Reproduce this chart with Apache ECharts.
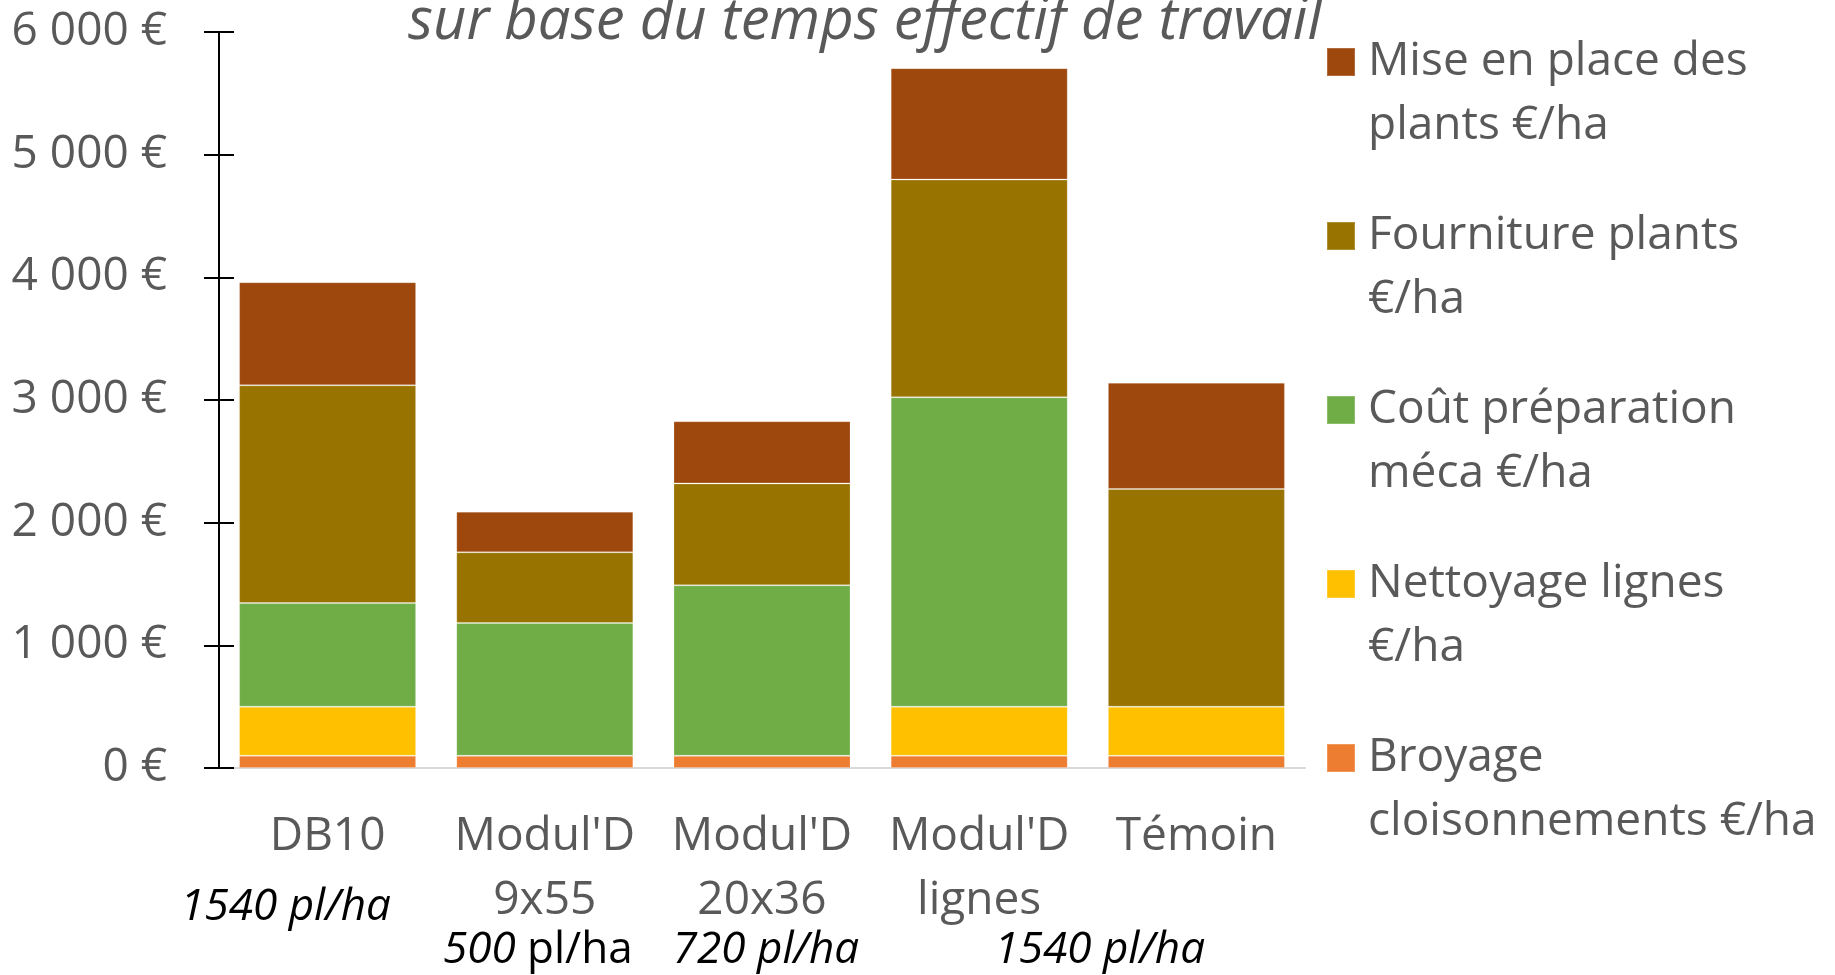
<!DOCTYPE html>
<html>
<head>
<meta charset="utf-8">
<script src="https://cdn.jsdelivr.net/npm/echarts@6/dist/echarts.min.js"></script>
<style>
  html, body { margin: 0; padding: 0; background: #fff; }
  #chart { width: 1835px; height: 975px; }
</style>
</head>
<body>
<div id="chart"></div>
<script>
var categories = ["DB10", "Modul'D\n9x55", "Modul'D\n20x36", "Modul'D\nlignes", "Témoin"];
var broyage = [100, 100, 100, 100, 100];
var nettoyage = [400, 0, 0, 400, 400];
var coutPrep = [845, 1082, 1390, 2522, 0];
var fourniture = [1775, 576, 830, 1775, 1775];
var miseEnPlace = [840, 332, 507, 908, 865];
var yTicks = [0, 1000, 2000, 3000, 4000, 5000, 6000];
var noteLabels = ['{i|1540 pl/ha}', '{i|500} {n|pl/ha}', '{i|720 pl/ha}', '{i|1540 pl/ha}'];

var FONT = '"Open Sans", sans-serif';
var GREY = '#595959';

var chart = echarts.init(document.getElementById('chart'));

function euro(v) {
    return String(v).replace(/\B(?=(\d{3})+(?!\d))/g, ' ') + ' €';
}

function bar(name, data, color) {
    return {
        name: name,
        type: 'bar',
        stack: 'total',
        data: data,
        barWidth: 177,
        itemStyle: { color: color, borderColor: 'rgba(255,255,255,0.2)', borderWidth: 1 }
    };
}

var series = [
    bar('Broyage\ncloisonnements €/ha', broyage, '#ED7D31'),
    bar('Nettoyage lignes\n€/ha', nettoyage, '#FFC000'),
    bar('Coût préparation\nméca €/ha', coutPrep, '#70AD47'),
    bar('Fourniture plants\n€/ha', fourniture, '#997300'),
    bar('Mise en place des\nplants €/ha', miseEnPlace, '#9E480E')
];

option = {
    animation: false,
    textStyle: { fontFamily: FONT },
    title: {
        text: 'sur base du temps effectif de travail',
        left: 860,
        textAlign: 'center',
        top: -12,
        textStyle: { fontFamily: FONT, fontStyle: 'italic', fontWeight: 'normal', fontSize: 58, color: GREY }
    },
    grid: { left: 219, right: 530, top: 32, bottom: 207 },
    legend: {
        orient: 'vertical',
        left: 1326,
        top: -34,
        padding: 0,
        icon: 'rect',
        itemWidth: 28,
        itemHeight: 28,
        itemGap: -18,
        selectedMode: false,
        data: series.map(function (s) { return s.name; }).reverse(),
        formatter: function (name) { return ' \n' + name; },
        textStyle: { fontFamily: FONT, fontSize: 46, color: GREY, lineHeight: 64, padding: [0, 0, 0, 8] }
    },
    xAxis: {
        type: 'category',
        data: categories,
        axisLine: { lineStyle: { color: '#D9D9D9', width: 2 } },
        axisTick: { show: false },
        axisLabel: { interval: 0, margin: 37, fontSize: 46, lineHeight: 64, color: GREY, fontFamily: FONT }
    },
    yAxis: [{
        type: 'value',
        min: yTicks[0],
        max: yTicks[yTicks.length - 1],
        interval: 1000,
        splitLine: { show: false },
        axisLine: { show: true, lineStyle: { color: '#000', width: 2 } },
        axisTick: { show: true, length: 15, lineStyle: { color: '#000', width: 2 } },
        axisLabel: { margin: 52, fontSize: 46, color: GREY, fontFamily: FONT, formatter: euro }
    }, {
        type: 'value',
        position: 'left',
        min: yTicks[0],
        max: yTicks[yTicks.length - 1],
        interval: 1000,
        splitLine: { show: false },
        axisLine: { show: false },
        axisTick: { show: true, inside: true, length: 15, lineStyle: { color: '#000', width: 2 } },
        axisLabel: { show: false }
    }],
    series: series
};

chart.setOption(option);

// notes under the category labels, placed from the category axis
var px = function (i) { return chart.convertToPixel({ xAxisIndex: 0 }, i); };
var notePos = [
    { x: px(0) - 42, y: 907 },
    { x: px(1) - 7, y: 950 },
    { x: px(2) + 4, y: 950 },
    { x: (px(3) + px(4)) / 2 + 12, y: 950 }
];
chart.setOption({
    graphic: noteLabels.map(function (t, k) {
        return {
            type: 'text',
            x: notePos[k].x,
            y: notePos[k].y,
            style: {
                text: t,
                align: 'center',
                verticalAlign: 'middle',
                fill: '#000',
                font: '44px ' + FONT,
                rich: {
                    i: { fontStyle: 'italic', fontSize: 44, fontFamily: FONT, fill: '#000' },
                    n: { fontSize: 44, fontFamily: FONT, fill: '#000' }
                }
            }
        };
    })
});
</script>
</body>
</html>
